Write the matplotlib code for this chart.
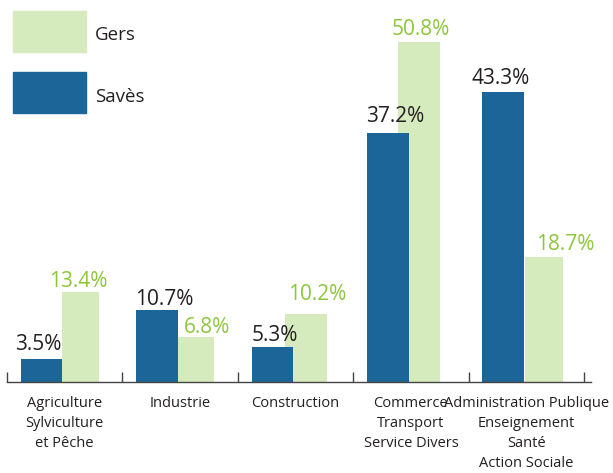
import matplotlib.pyplot as plt
from matplotlib.patches import Rectangle

plt.rcParams['font.family'] = ['Open Sans', 'DejaVu Sans']

categories = ['Agriculture\nSylviculture\net Pêche', 'Industrie', 'Construction',
              'Commerce\nTransport\nService Divers',
              'Administration Publique\nEnseignement\nSanté\nAction Sociale']
saves = [3.5, 10.7, 5.3, 37.2, 43.3]
gers = [13.4, 6.8, 10.2, 50.8, 18.7]

blue = '#1b6598'
green = '#d5eabd'
green_txt = '#8cc63e'
dark = '#231f20'

W, H = 613, 473
PX = 72 / 100  # points per pixel
fig = plt.figure(figsize=(W / 100, H / 100), dpi=100)
# axes in pixel coords: x 7..591, axis line at y=382
ax = fig.add_axes([7 / W, 91 / H, (591 - 7) / W, 368 / H])
ax.set_xlim(0, (591 - 7) / 115.4)
ax.set_ylim(0, 55)

x = range(len(categories))
# hand placed as in the original: some Gers bars sit partly behind the Savès bar
gers_start = [0.48, 0.48, 0.41, 0.39, 0.485]
gers_width = [0.32, 0.31, 0.36, 0.36, 0.33]
b2 = ax.bar([i + s for i, s in zip(x, gers_start)], gers, width=gers_width, align='edge',
            color=green, zorder=1)
b1 = ax.bar([i + 0.12 for i in x], saves, width=0.36, align='edge', color=blue, zorder=2)

# label offsets in pixels (dx from bar centre, gap from bar top to baseline)
saves_off = [(-3, 9), (7, 5), (2, 6), (7, 11), (-3, 8)]
gers_off = [(-3, 5), (11, 4), (11, 14), (2, 7), (22, 7)]

for bars, vals, offs, col in [(b1, saves, saves_off, dark), (b2, gers, gers_off, green_txt)]:
    for bar, v, (dx, dy) in zip(bars, vals, offs):
        ax.annotate(f'{v}%', (bar.get_x() + bar.get_width() / 2, v),
                    xytext=(dx * PX, dy * PX), textcoords='offset points',
                    ha='center', va='baseline', fontsize=15, color=col)

for s in ['top', 'right', 'left']:
    ax.spines[s].set_visible(False)
ax.spines['bottom'].set_color('#444444')
ax.spines['bottom'].set_linewidth(1.0)
ax.set_yticks([])
ax.set_xticks(range(len(categories) + 1))
ax.set_xticklabels([])
ax.tick_params(axis='x', which='major', direction='in', length=7, color='#444444', width=1)
ax.set_xticks([i + 0.5 for i in x], minor=True)
ax.set_xticklabels(categories, minor=True, fontsize=10.5, color=dark, linespacing=1.45)
ax.tick_params(axis='x', which='minor', length=0, pad=10)

# legend
fig.patches.append(Rectangle((13 / W, 1 - 52 / H), 73 / W, 41 / H, transform=fig.transFigure, color=green))
fig.patches.append(Rectangle((13 / W, 1 - 113 / H), 73 / W, 41 / H, transform=fig.transFigure, color=blue))
fig.text(95 / W, 1 - 35 / H, 'Gers', fontsize=13.5, color=dark, va='center')
fig.text(95 / W, 1 - 97 / H, 'Savès', fontsize=13.5, color=dark, va='center')

fig.savefig('out.png', dpi=100)
